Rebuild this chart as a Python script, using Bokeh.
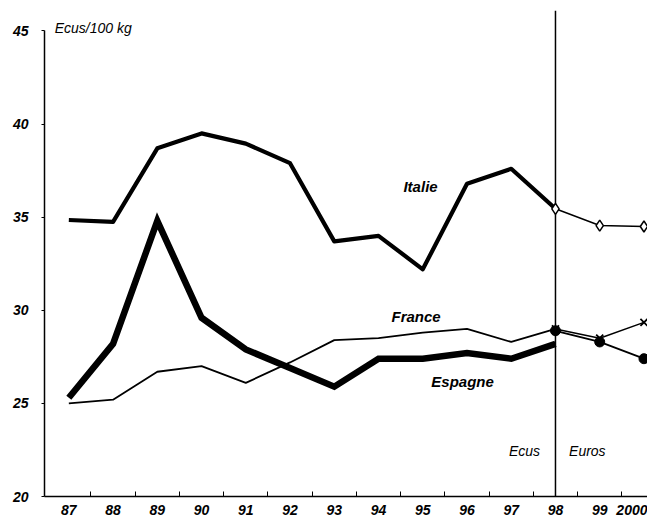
from bokeh.plotting import figure
from bokeh.models import FixedTicker, Range1d, Label
from bokeh.embed import file_html
from bokeh.resources import INLINE

years = ["87", "88", "89", "90", "91", "92", "93", "94", "95", "96", "97", "98", "99", "2000"]
ecus_idx = list(range(0, 12))
euros_idx = [11, 12, 13]

italie_ecus = [34.85, 34.75, 38.7, 39.5, 38.95, 37.9, 33.7, 34.0, 32.2, 36.8, 37.6, 35.45]
espagne_ecus = [25.3, 28.2, 34.8, 29.6, 27.9, 26.9, 25.9, 27.4, 27.4, 27.7, 27.4, 28.2]
france_ecus = [25.0, 25.2, 26.7, 27.0, 26.1, 27.2, 28.4, 28.5, 28.8, 29.0, 28.3, 29.0]

italie_euros = [35.45, 34.55, 34.5]
france_euros = [29.0, 28.5, 29.35]
espagne_euros = [28.9, 28.3, 27.4]

y_ticks = [20, 25, 30, 35, 40, 45]

FONT = "Liberation Sans"

p = figure(width=647, height=517, output_backend="svg", toolbar_location=None,
           x_range=Range1d(-0.55, 13.08), y_range=Range1d(20, 46.1),
           min_border_left=44, min_border_right=0, min_border_top=10, min_border_bottom=19)
p.outline_line_color = None
p.grid.visible = False
p.background_fill_color = "white"
p.border_fill_color = "white"

# x axis: labels at category centres, ticks at boundaries
xt = FixedTicker(ticks=list(range(len(years))), minor_ticks=[i + 0.5 for i in range(len(years) - 1)])
p.xaxis.ticker = xt
p.xaxis.major_label_overrides = {i: y for i, y in enumerate(years)}
p.xaxis.major_tick_in = 0
p.xaxis.major_tick_out = 0
p.xaxis.minor_tick_in = 5
p.xaxis.minor_tick_out = 0
p.xaxis.major_label_standoff = 8
p.xaxis.major_label_text_font = FONT
p.xaxis.major_label_text_font_style = "bold italic"
p.xaxis.major_label_text_font_size = "14px"
p.xaxis.major_label_text_color = "black"
p.xaxis.axis_line_color = "black"
p.xaxis.axis_line_width = 1.5

p.yaxis.ticker = FixedTicker(ticks=y_ticks, minor_ticks=[])
p.yaxis.bounds = (20, 45)
p.yaxis.major_tick_in = 0
p.yaxis.major_tick_out = 3
p.yaxis.major_label_standoff = 13
p.yaxis.major_label_text_font = FONT
p.yaxis.major_label_text_font_style = "bold italic"
p.yaxis.major_label_text_font_size = "14px"
p.yaxis.major_label_text_color = "black"
p.yaxis.axis_line_color = "black"
p.yaxis.axis_line_width = 1.5

# Ecus / Euros separator
p.segment(x0=[11], y0=[20], x1=[11], y1=[46.1], line_color="black", line_width=1.5)

# Ecus period
p.line(ecus_idx, france_ecus, line_color="black", line_width=1.8)
p.line(ecus_idx, italie_ecus, line_color="black", line_width=4.2, line_join="round")
p.line(ecus_idx, espagne_ecus, line_color="black", line_width=6.5, line_join="miter")

# Euros period
p.line(euros_idx, italie_euros, line_color="black", line_width=1.5)
p.scatter(euros_idx, italie_euros, marker="diamond", size=11, fill_color="white",
          line_color="black", line_width=1.5)
p.line(euros_idx, france_euros, line_color="black", line_width=1.5)
p.scatter(euros_idx, france_euros, marker="x", size=10, line_color="black", line_width=1.8)
p.line(euros_idx, espagne_euros, line_color="black", line_width=1.8)
p.scatter(euros_idx, espagne_euros, marker="circle", size=10, fill_color="black",
          line_color="black")

def lab(x, y, t, style, size, align="center"):
    p.add_layout(Label(x=x, y=y, text=t, text_font=FONT, text_font_style=style,
                       text_font_size=size, text_align=align, text_baseline="middle",
                       text_color="black"))

lab(-0.32, 45.15, "Ecus/100 kg", "italic", "14px", "left")
lab(7.95, 36.65, "Italie", "bold italic", "15px")
lab(7.85, 29.65, "France", "bold italic", "15px")
lab(8.9, 26.2, "Espagne", "bold italic", "15px")
lab(10.3, 22.45, "Ecus", "italic", "14px")
lab(11.72, 22.45, "Euros", "italic", "14px")

open("out.html", "w").write(file_html(p, INLINE))
